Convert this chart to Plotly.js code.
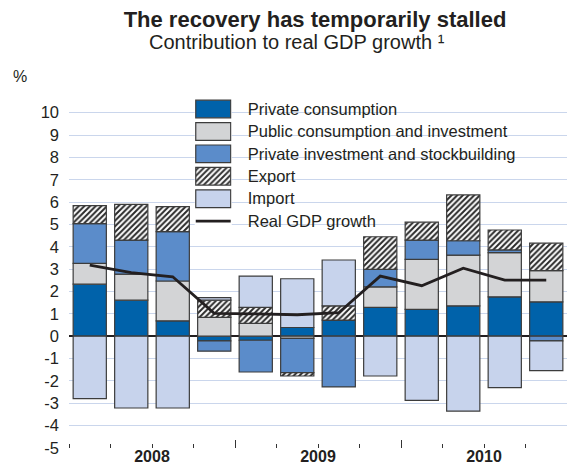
<!DOCTYPE html>
<html>
<head>
<meta charset="utf-8">
<script src="https://cdn.plot.ly/plotly-3.0.1.min.js"></script>
<style>
  html, body { margin: 0; padding: 0; background: #ffffff; }
  #chart { width: 567px; height: 466px; }
</style>
</head>
<body>
<div id="chart"></div>
<script>
// ---------- data ----------
const quarters = ['2008 Q1','2008 Q2','2008 Q3','2008 Q4',
                  '2009 Q1','2009 Q2','2009 Q3','2009 Q4',
                  '2010 Q1','2010 Q2','2010 Q3','2010 Q4'];
const privateConsumption   = [2.33, 1.61, 0.69, -0.21, -0.18, 0.39, 0.72, 1.29, 1.20, 1.36, 1.76, 1.54];
const publicConsInvestment = [0.93, 1.17, 1.78, 0.84, 0.57, -0.10, 0.00, 0.92, 2.24, 2.27, 1.98, 1.39];
const privateInvestStock   = [1.78, 1.52, 2.21, -0.46, -1.42, -1.53, -2.27, 0.78, 0.86, 0.64, 0.12, -0.21];
const exportContribution   = [0.80, 1.60, 1.12, 0.77, 0.72, -0.15, 0.64, 1.46, 0.80, 2.05, 0.89, 1.23];
const importContribution   = [-2.79, -3.21, -3.21, 0.12, 1.40, 2.18, 2.05, -1.78, -2.87, -3.35, -2.30, -1.33];
const realGdpGrowth        = [3.18, 2.84, 2.66, 1.02, 1.00, 0.96, 1.05, 2.69, 2.26, 3.04, 2.51, 2.51];
const yearLabels = ['2008', '2009', '2010'];
const yTickValues = [-5, -4, -3, -2, -1, 0, 1, 2, 3, 4, 5, 6, 7, 8, 9, 10];
const yTickLabels = ['-5', '-4', '-3', '-2', '-1', '0', '1', '2', '3', '4', '5', '6', '7', '8', '9', '10'];
const seriesNames = ['Private consumption', 'Public consumption and investment',
                     'Private investment and stockbuilding', 'Export', 'Import'];
const lineName = 'Real GDP growth';

// ---------- styles ----------
const FONT = 'Liberation Sans, Arial, Helvetica, sans-serif';
const TXT = '#231f20';
const seriesColors = ['#0062aa', '#d3d4d6', '#5b8cca', '#333333', '#c7d3ec'];
const seriesPatterns = ['', '', '', '/', ''];
const OUTLINE = '#3c3c3c';
const HATCH = { fgcolor: '#2a2a2a', bgcolor: '#ffffff', size: 4, solidity: 0.5 };
const seriesValues = [privateConsumption, publicConsInvestment, privateInvestStock,
                      exportContribution, importContribution];

const perQuarter = 4;
const nYears = yearLabels.length;
const boundaries = quarters.map((q, i) => i - 0.5).concat([quarters.length - 0.5]);
const yearBounds = [];
for (let k = 0; k <= nYears; k++) yearBounds.push(k * perQuarter - 0.5);
const yearCenters = yearLabels.map((y, k) => k * perQuarter + (perQuarter - 1) / 2);

const traces = [];
seriesNames.forEach((name, i) => {
  const marker = { color: seriesColors[i], line: { color: OUTLINE, width: 1.2 } };
  if (seriesPatterns[i]) {
    marker.pattern = Object.assign({ shape: seriesPatterns[i] }, HATCH);
  }
  traces.push({
    type: 'bar', name: name, x: quarters, y: seriesValues[i],
    xaxis: 'x', yaxis: 'y', width: 0.8, marker: marker, showlegend: false,
    hoverinfo: 'skip'
  });
});
traces.push({
  type: 'scatter', mode: 'lines', name: lineName, x: quarters, y: realGdpGrowth,
  xaxis: 'x', yaxis: 'y', line: { color: '#231f20', width: 2.8 }, showlegend: false,
  hoverinfo: 'skip'
});

// carriers so that the overlaid tick/label axes get drawn (no visible marks)
traces.push({ type: 'scatter', mode: 'markers', xaxis: 'x2', yaxis: 'y',
  x: [yearCenters[0]], y: [null], marker: { opacity: 0 }, showlegend: false, hoverinfo: 'skip' });
traces.push({ type: 'scatter', mode: 'markers', xaxis: 'x3', yaxis: 'y',
  x: [yearBounds[0]], y: [null], marker: { opacity: 0 }, showlegend: false, hoverinfo: 'skip' });

// custom legend drawn on a small helper subplot (swatches sized like the reference)
const legendCats = seriesNames.concat([lineName]);
traces.push({
  type: 'bar', orientation: 'h', xaxis: 'x4', yaxis: 'y4',
  y: seriesNames, x: seriesNames.map(() => 1), base: 0, width: 0.79,
  marker: { color: seriesColors, line: { color: OUTLINE, width: 1.2 },
            pattern: Object.assign({ shape: seriesPatterns }, HATCH) },
  showlegend: false, hoverinfo: 'skip'
});
traces.push({
  type: 'scatter', mode: 'lines', xaxis: 'x4', yaxis: 'y4',
  x: [0, 1], y: [lineName, lineName],
  line: { color: '#231f20', width: 2.8 }, showlegend: false, hoverinfo: 'skip'
});

const layout = {
  width: 567, height: 466,
  margin: { l: 69.4, r: 0, t: 97, b: 18.3, pad: 0 },
  paper_bgcolor: '#ffffff', plot_bgcolor: '#ffffff',
  font: { family: FONT, color: TXT, size: 15 },
  barmode: 'relative',
  showlegend: false,
  title: {
    text: 'The recovery has temporarily stalled',
    font: { family: FONT, size: 22, color: TXT, weight: 'bold' },
    x: 315 / 567, xanchor: 'center', xref: 'container',
    y: 1 - 19.5 / 466, yanchor: 'middle', yref: 'container'
  },
  xaxis: {
    type: 'category', categoryorder: 'array', categoryarray: quarters,
    range: [-0.5, quarters.length - 0.5],
    showticklabels: false, ticks: '', showgrid: false, zeroline: false, showline: false,
    fixedrange: true
  },
  xaxis2: {
    overlaying: 'x', anchor: 'y', side: 'bottom', type: 'linear',
    range: [-0.5, quarters.length - 0.5],
    tickmode: 'array', tickvals: yearCenters, ticktext: yearLabels, ticks: '',
    ticklabelstandoff: -3,
    tickfont: { family: FONT, size: 16, color: TXT, weight: 'bold' },
    minor: { tickmode: 'array', tickvals: boundaries, ticks: 'inside', ticklen: 4,
             tickcolor: '#333333', tickwidth: 1, showgrid: false },
    showgrid: false, zeroline: false, showline: false, fixedrange: true
  },
  xaxis3: {
    overlaying: 'x', anchor: 'y', side: 'bottom', type: 'linear',
    range: [-0.5, quarters.length - 0.5],
    tickmode: 'array', tickvals: yearBounds, ticks: 'inside', ticklen: 8,
    tickcolor: '#333333', tickwidth: 1, showticklabels: false,
    showgrid: false, zeroline: false, showline: false, fixedrange: true
  },
  yaxis: {
    range: [-5, 10.7], tickmode: 'array', tickvals: yTickValues, ticktext: yTickLabels,
    ticks: '', ticklabelstandoff: 9,
    tickfont: { family: FONT, size: 16.5, color: TXT },
    showgrid: true, gridcolor: '#cad6ec', gridwidth: 1,
    zeroline: true, zerolinecolor: '#231f20', zerolinewidth: 1.5,
    showline: false, fixedrange: true
  },
  xaxis4: {
    domain: [0.2524, 0.3268], anchor: 'y4', range: [-0.03, 1.03],
    visible: false, fixedrange: true
  },
  yaxis4: {
    domain: [0.6145, 0.9977], anchor: 'x4', side: 'right',
    type: 'category', categoryorder: 'array', categoryarray: legendCats,
    range: [legendCats.length - 0.5, -0.5],
    ticks: '', showgrid: false, zeroline: false, showline: false,
    ticklabelstandoff: 15,
    tickfont: { family: FONT, size: 16.5, color: TXT }, fixedrange: true
  },
  annotations: [
    { text: 'Contribution to real GDP growth ¹', xref: 'paper', yref: 'paper',
      x: (297 - 69.4) / 497.6, y: (447.7 - 42) / 350.7, xanchor: 'center', yanchor: 'middle',
      showarrow: false, font: { family: FONT, size: 20, color: TXT } },
    { text: '%', xref: 'paper', yref: 'paper',
      x: (20 - 69.4) / 497.6, y: (447.7 - 77) / 350.7, xanchor: 'center', yanchor: 'middle',
      showarrow: false, font: { family: FONT, size: 16, color: TXT } }
  ]
};

Plotly.newPlot('chart', traces, layout, { displayModeBar: false, staticPlot: true });
</script>
</body>
</html>
